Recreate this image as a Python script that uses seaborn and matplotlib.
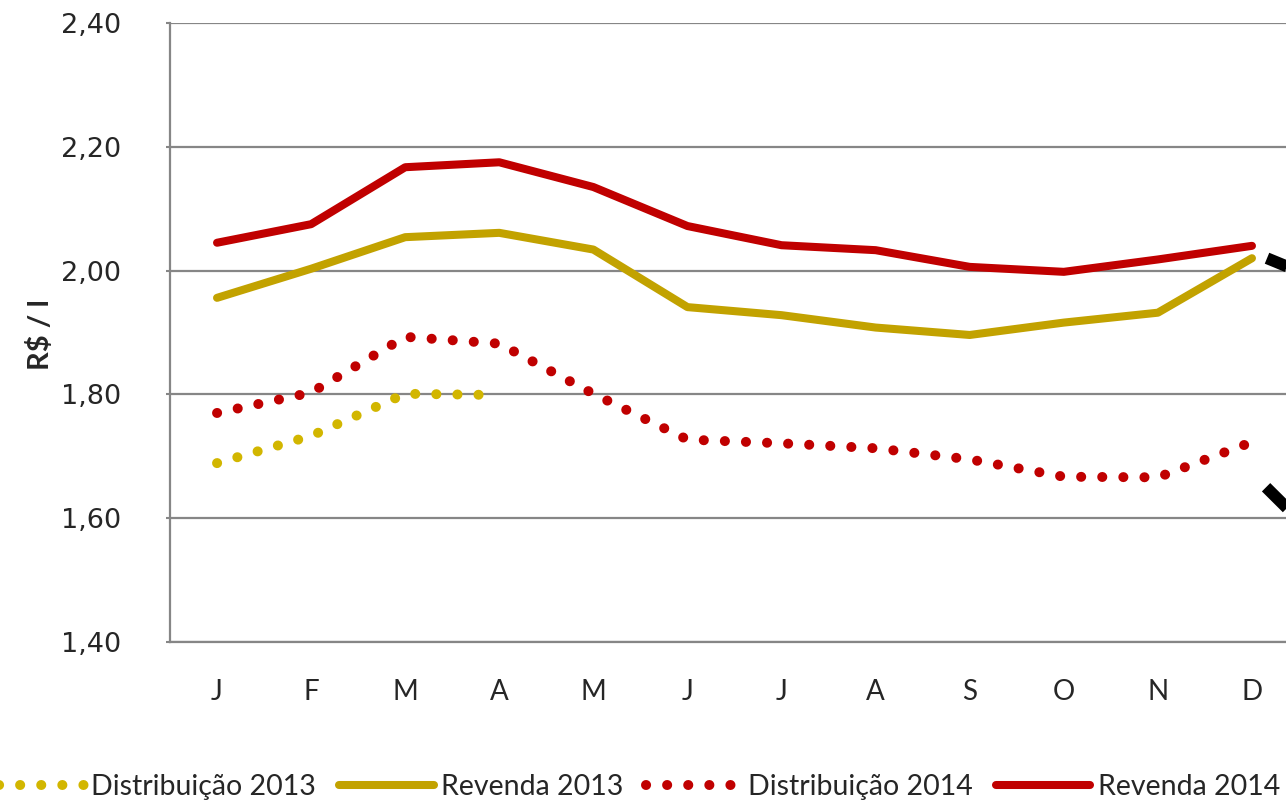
import pandas as pd
import matplotlib
matplotlib.use("Agg")
import matplotlib.pyplot as plt
from matplotlib.ticker import FuncFormatter
import seaborn as sns

# dados (R$/l)
meses = ["J", "F", "M", "A", "M", "J", "J", "A", "S", "O", "N", "D"]
distribuicao_2013 = [1.689, 1.733, 1.801, 1.799]
revenda_2013 = [1.956, 2.003, 2.054, 2.061, 2.034, 1.941, 1.928, 1.908, 1.896, 1.916, 1.932, 2.020]
distribuicao_2014 = [1.770, 1.803, 1.893, 1.882, 1.801, 1.727, 1.721, 1.713, 1.695, 1.667, 1.666, 1.723]
revenda_2014 = [2.045, 2.075, 2.167, 2.175, 2.135, 2.072, 2.041, 2.033, 2.006, 1.998, 2.018, 2.040]

# setas pretas cortadas na borda direita
seta_x = [[11.16, 11.64], [11.15, 11.64]]
seta_y = [[2.020, 1.990], [1.650, 1.576]]

sns.set_style("white")
plt.rcParams["font.family"] = ["Lato", "DejaVu Sans"]

GRID = "#868686"
fig = plt.figure(figsize=(12.86, 8.02), dpi=100)
ax = fig.add_axes([170 / 1286, 1 - 642 / 802, 1129 / 1286, 619 / 802])

series = [
    ("Distribuição 2013", distribuicao_2013, "#D2B600", "dot"),
    ("Revenda 2013", revenda_2013, "#C2A200", "solid"),
    ("Distribuição 2014", distribuicao_2014, "#C00000", "dot"),
    ("Revenda 2014", revenda_2014, "#C00000", "solid"),
]
for nome, vals, cor, estilo in series:
    df = pd.DataFrame({"mes": range(len(vals)), "valor": vals})
    if estilo == "dot":
        sns.lineplot(data=df, x="mes", y="valor", ax=ax, color=cor, label=nome,
                     linewidth=7.2, linestyle=(0, (0.01, 2.1)), dash_capstyle="round")
    else:
        sns.lineplot(data=df, x="mes", y="valor", ax=ax, color=cor, label=nome,
                     linewidth=5.8, solid_capstyle="round")

for xs, ys in zip(seta_x, seta_y):
    ax.plot(xs, ys, color="black", linewidth=8.5, solid_capstyle="butt")

ax.set_xlim(-0.5, 11.5)
ax.set_ylim(1.40, 2.40)
ax.set_xticks(range(12))
ax.set_xticklabels(meses, fontsize=20)
ax.set_yticks([1.40, 1.60, 1.80, 2.00, 2.20, 2.40])
ax.yaxis.set_major_formatter(FuncFormatter(lambda v, p: f"{v:.2f}".replace(".", ",")))
for lab in ax.get_yticklabels():
    lab.set_family("DejaVu Sans")
    lab.set_fontsize(19.5)
ax.tick_params(axis="x", length=0, pad=27)
ax.tick_params(axis="y", length=3, width=1.5, color=GRID, pad=32, left=True)

ax.grid(axis="y", color=GRID, linewidth=1.6)
ax.grid(axis="x", visible=False)
ax.set_axisbelow(True)
for s in ["top", "right"]:
    ax.spines[s].set_visible(False)
for s in ["left", "bottom"]:
    ax.spines[s].set_color(GRID)
    ax.spines[s].set_linewidth(1.6)

ax.set_xlabel("")
ax.set_ylabel("R$ / l", fontsize=21, fontweight="bold")
ax.yaxis.set_label_coords(-0.103, 0.496)

handles, labels = ax.get_legend_handles_labels()
ax.get_legend().remove()
fig.legend(handles[:4], labels[:4], loc="center", bbox_to_anchor=(0.4935, 0.019),
           ncol=4, frameon=False, fontsize=20.5, handlelength=3.33,
           handletextpad=0.25, columnspacing=0.8, borderpad=0, borderaxespad=0)

fig.savefig("out.png", dpi=100)
